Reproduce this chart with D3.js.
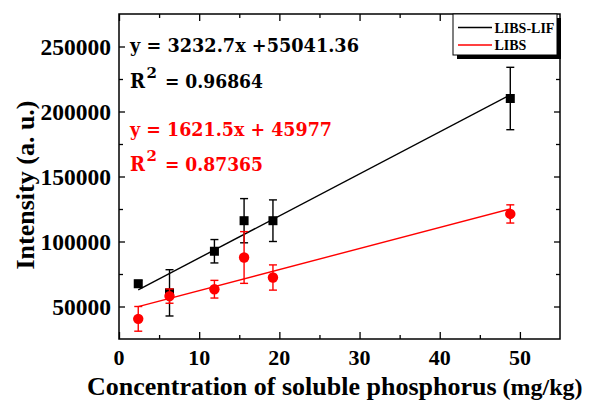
<!DOCTYPE html>
<html>
<head>
<meta charset="utf-8">
<script src="https://cdn.jsdelivr.net/npm/d3@7"></script>
<style>
  html, body { margin: 0; padding: 0; background: #fff; }
  svg { display: block; }
  .ax { font-family: "Liberation Serif", "Times New Roman", serif; font-weight: bold; }
  .eq { font-family: "DejaVu Serif", serif; font-weight: bold; }
</style>
</head>
<body>
<svg id="chart" width="595" height="403"></svg>
<script>
// Soluble phosphorus concentration (mg/kg)
const concentration = [2.4, 6.3, 11.9, 15.6, 19.2, 48.8];

// LIBS-LIF intensities and standard deviations
const lifValues = [67500, 60500, 92500, 116000, 116000, 210000];
const lifErrors = [2500, 17800, 9000, 17000, 16000, 24000];

// LIBS intensities and standard deviations
const libsValues = [40500, 58000, 63300, 87700, 72300, 121200];
const libsErrors = [9500, 5500, 6800, 19900, 9700, 7000];

// Linear calibration fits
const seriesNames = ["LIBS-LIF", "LIBS"];
const seriesColors = ["#000000", "#ff0000"];
const fitSlopes = [3232.7, 1621.5];
const fitIntercepts = [55041.36, 45977];
const fitInterceptText = ["+55041.36", "+ 45977"];
const fitR2 = ["0.96864", "0.87365"];

const xTicks = [0, 10, 20, 30, 40, 50];
const yTicks = [50000, 100000, 150000, 200000, 250000];

const svg = d3.select("#chart");
const pLeft = 119, pRight = 560, pTop = 14, pBottom = 339;

const x = d3.scaleLinear().domain([0, 55]).range([pLeft, pRight]);
const y = d3.scaleLinear().domain([25000, 275000]).range([pBottom, pTop]);

// Frame ticks (inward on all four sides)
const xMinor = d3.range(5, 55, 10);
const yMinor = [75000, 125000, 175000, 225000];

function tickGroup(axis, tx, ty, vals, size) {
  svg.append("g").attr("transform", `translate(${tx},${ty})`)
    .call(axis.tickValues(vals).tickSize(-size).tickFormat(""))
    .call(g => g.select(".domain").remove());
}
tickGroup(d3.axisBottom(x), 0, pBottom, xTicks, 7);
tickGroup(d3.axisBottom(x), 0, pBottom, xMinor, 4);
tickGroup(d3.axisTop(x), 0, pTop, xTicks, 7);
tickGroup(d3.axisTop(x), 0, pTop, xMinor, 4);
tickGroup(d3.axisLeft(y), pLeft, 0, yTicks, 6);
tickGroup(d3.axisLeft(y), pLeft, 0, yMinor, 4);
tickGroup(d3.axisRight(y), pRight, 0, yTicks, 6);
tickGroup(d3.axisRight(y), pRight, 0, yMinor, 4);
svg.selectAll(".tick line").attr("stroke", "#000").attr("stroke-width", 1.3);

// Tick labels
svg.append("g").selectAll("text").data(xTicks).join("text")
  .attr("class", "ax").attr("x", d => x(d)).attr("y", 365)
  .attr("text-anchor", "middle").attr("font-size", 22).text(d => d);
svg.append("g").selectAll("text").data(yTicks).join("text")
  .attr("class", "ax").attr("x", 111).attr("y", d => y(d) + 8)
  .attr("text-anchor", "end").attr("font-size", 23.5).text(d => d);

// Axis titles
const xt = svg.append("text").attr("class", "ax").attr("x", 87).attr("y", 395)
  .attr("font-size", 26);
xt.append("tspan").text("Concentration of soluble phosphorus");
xt.append("tspan").attr("font-size", 24).text(" (mg/kg)");

svg.append("text").attr("class", "ax")
  .attr("transform", `translate(34,185) rotate(-90)`)
  .attr("text-anchor", "middle").attr("font-size", 26)
  .text("Intensity (a. u.)");

// Series data
const series = [
  { values: lifValues, errors: lifErrors, shape: "square" },
  { values: libsValues, errors: libsErrors, shape: "circle" }
];

const plot = svg.append("g");
const cMin = d3.min(concentration), cMax = d3.max(concentration);
series.forEach((s, i) => {
  plot.append("line")
    .attr("x1", x(cMin)).attr("y1", y(fitSlopes[i] * cMin + fitIntercepts[i]))
    .attr("x2", x(cMax)).attr("y2", y(fitSlopes[i] * cMax + fitIntercepts[i]))
    .attr("stroke", seriesColors[i]).attr("stroke-width", 1.4);
});
series.forEach((s, i) => {
  const col = seriesColors[i];
  const pts = concentration.map((c, j) => ({ c, v: s.values[j], e: s.errors[j] }));
  const g = plot.append("g").attr("stroke", col).attr("stroke-width", 1.4);
  g.selectAll(".eb").data(pts).join("line")
    .attr("x1", d => x(d.c)).attr("x2", d => x(d.c))
    .attr("y1", d => y(d.v - d.e)).attr("y2", d => y(d.v + d.e));
  g.selectAll(".ct").data(pts).join("line")
    .attr("x1", d => x(d.c) - 4).attr("x2", d => x(d.c) + 4)
    .attr("y1", d => y(d.v + d.e)).attr("y2", d => y(d.v + d.e));
  g.selectAll(".cb").data(pts).join("line")
    .attr("x1", d => x(d.c) - 4).attr("x2", d => x(d.c) + 4)
    .attr("y1", d => y(d.v - d.e)).attr("y2", d => y(d.v - d.e));
  if (s.shape === "square") {
    plot.append("g").selectAll("rect").data(pts).join("rect")
      .attr("x", d => x(d.c) - 4.5).attr("y", d => y(d.v) - 4.5)
      .attr("width", 9).attr("height", 9).attr("fill", col);
  } else {
    plot.append("g").selectAll("circle").data(pts).join("circle")
      .attr("cx", d => x(d.c)).attr("cy", d => y(d.v))
      .attr("r", 5.2).attr("fill", col);
  }
});

// Plot frame
svg.append("rect").attr("x", pLeft).attr("y", pTop)
  .attr("width", pRight - pLeft).attr("height", pBottom - pTop)
  .attr("fill", "none").attr("stroke", "#000").attr("stroke-width", 1.5);

// Fit equations
const eqBase = [52, 136];
const eqWidth = [229, 202];
const r2Base = [88, 171];
seriesNames.forEach((n, i) => {
  const col = seriesColors[i];
  svg.append("text").attr("class", "eq").attr("fill", col)
    .attr("x", 130).attr("y", eqBase[i]).attr("font-size", 19)
    .attr("textLength", eqWidth[i]).attr("lengthAdjust", "spacingAndGlyphs")
    .text(`y = ${fitSlopes[i]}x ${fitInterceptText[i]}`);
  svg.append("text").attr("class", "eq").attr("fill", col)
    .attr("x", 130).attr("y", r2Base[i]).attr("font-size", 20)
    .attr("textLength", 15).attr("lengthAdjust", "spacingAndGlyphs").text("R");
  svg.append("text").attr("class", "eq").attr("fill", col)
    .attr("x", 146.5).attr("y", r2Base[i] - 10).attr("font-size", 15)
    .text("2");
  svg.append("text").attr("class", "eq").attr("fill", col)
    .attr("x", 165).attr("y", r2Base[i]).attr("font-size", 19)
    .attr("textLength", 98).attr("lengthAdjust", "spacingAndGlyphs")
    .text(`= ${fitR2[i]}`);
});

// Legend with drop shadow
const lg = svg.append("g");
lg.append("rect").attr("x", 457).attr("y", 18).attr("width", 104).attr("height", 41)
  .attr("fill", "#000");
lg.append("rect").attr("x", 453).attr("y", 14).attr("width", 104).attr("height", 41)
  .attr("fill", "#fff").attr("stroke", "#000").attr("stroke-width", 1);
const legY = [27.5, 45];
seriesNames.forEach((n, i) => {
  lg.append("line").attr("x1", 458).attr("x2", 492)
    .attr("y1", legY[i]).attr("y2", legY[i])
    .attr("stroke", seriesColors[i]).attr("stroke-width", 1.4);
  lg.append("text").attr("class", "ax").attr("x", 494.5).attr("y", legY[i] + 5)
    .attr("font-size", 14).attr("fill", "#000").text(n);
});
</script>
</body>
</html>
